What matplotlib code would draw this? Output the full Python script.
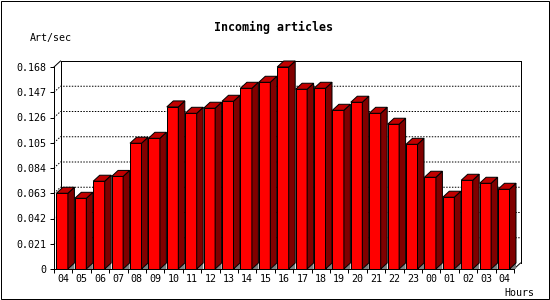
import matplotlib
matplotlib.use('Agg')
import matplotlib.pyplot as plt
from matplotlib.patches import Polygon, Rectangle
from matplotlib.lines import Line2D

# ---- data ----
hours = ['04', '05', '06', '07', '08', '09', '10', '11', '12', '13', '14', '15', '16',
         '17', '18', '19', '20', '21', '22', '23', '00', '01', '02', '03', '04']
rates = [0.063, 0.0588, 0.073, 0.077, 0.1046, 0.1087, 0.1348, 0.1295, 0.1337, 0.1395,
         0.1503, 0.1553, 0.168, 0.1495, 0.1503, 0.132, 0.1387, 0.1295, 0.1204, 0.1037,
         0.0763, 0.0597, 0.0738, 0.0713, 0.0663]
y_ticks = [0, 0.021, 0.042, 0.063, 0.084, 0.105, 0.126, 0.147, 0.168]
y_tick_labels = ['0', '0.021', '0.042', '0.063', '0.084', '0.105', '0.126', '0.147', '0.168']
title = 'Incoming articles'
y_label = 'Art/sec'
x_label = 'Hours'

# ---- style ----
FRONT = '#ff0000'
SIDE = '#800000'
TOP = '#c00000'
FLOOR = '#808080'
LW = 0.72
MONO = 'DejaVu Sans Mono'
plt.rcParams['font.family'] = [MONO]

W, H = 550, 300
fig = plt.figure(figsize=(5.5, 3), dpi=100)
ax_l, ax_r, ax_b, ax_t = 54, 514, 269, 67
ax = fig.add_axes([ax_l / W, 1 - ax_b / H, (ax_r - ax_l) / W, (ax_b - ax_t) / H])
n = len(hours)
ymax = y_ticks[-1]
ax.set_xlim(0, n)
ax.set_ylim(0, ymax)
px_x = n / (ax_r - ax_l)
px_y = ymax / (ax_b - ax_t)
DX = 6.5 * px_x
DY = 6.0 * px_y

# back plane frame
back = [
    [(DX, DY), (DX, ymax + DY)],
    [(DX, ymax + DY), (n + DX, ymax + DY)],
    [(n + DX, ymax + DY), (n + DX, DY)],
    [(0, ymax), (DX, ymax + DY)],
    [(n, 0), (n + DX, DY)],
]
for seg in back:
    xs, ys = zip(*seg)
    ax.add_line(Line2D(xs, ys, color='black', lw=LW, clip_on=False, zorder=1))

# dotted grid on back plane
for v in y_ticks[1:-1]:
    ax.add_line(Line2D([0, DX, n + DX], [v, v + DY, v + DY], color='black', lw=LW,
                       linestyle=(0, (1.44, 1.44)), clip_on=False, zorder=1))

# bars
off = 2.4 * px_x
bw = 11.5 * px_x
x0s = [i + off for i in range(n)]
ax.bar(x0s, rates, width=bw, align='edge', color=FRONT, edgecolor='black',
       linewidth=LW, zorder=3, clip_on=False)
for x0, v in zip(x0s, rates):
    x1 = x0 + bw
    ax.add_patch(Polygon([(x1, 0), (x1 + DX, DY), (x1 + DX, 0)], closed=True,
                         facecolor=FLOOR, edgecolor='none', zorder=2, clip_on=False))
    ax.add_patch(Polygon([(x1, 0), (x1, v), (x1 + DX, v + DY), (x1 + DX, DY)], closed=True,
                         facecolor=SIDE, edgecolor='black', lw=LW, zorder=3, clip_on=False))
    ax.add_patch(Polygon([(x0, v), (x0 + DX, v + DY), (x1 + DX, v + DY), (x1, v)], closed=True,
                         facecolor=TOP, edgecolor='black', lw=LW, zorder=3, clip_on=False))

# spines and ticks
for s in ['top', 'right']:
    ax.spines[s].set_visible(False)
for s in ['left', 'bottom']:
    ax.spines[s].set_linewidth(LW)
    ax.spines[s].set_zorder(5)
ax.patch.set_visible(False)

ax.set_yticks(y_ticks)
ax.set_yticklabels(y_tick_labels)
ax.tick_params(axis='y', direction='out', length=2.9, width=LW, pad=2.9, labelsize=7.2)
ax.set_xticks(range(n + 1))
ax.set_xticklabels([])
ax.set_xticks([i + 0.5 for i in range(n)], minor=True)
ax.set_xticklabels(hours, minor=True)
ax.tick_params(axis='x', which='major', direction='out', length=2.9, width=LW)
ax.tick_params(axis='x', which='minor', length=0, pad=3.6, labelsize=7.2)

# texts
fig.text(273.5 / W, 1 - 31 / H, title, ha='center', va='baseline', fontsize=8.4,
         fontweight='bold')
fig.text(30 / W, 1 - 41 / H, y_label, ha='left', va='baseline', fontsize=7.2)
fig.text(504 / W, 1 - 296 / H, x_label, ha='left', va='baseline', fontsize=7.2)

# outer border
fig.patches.append(Rectangle((0.5 / W, 1 - 298.5 / H), 548 / W, 298 / H,
                             transform=fig.transFigure, fill=False, edgecolor='black',
                             lw=LW))

fig.savefig('out.png', dpi=100)
